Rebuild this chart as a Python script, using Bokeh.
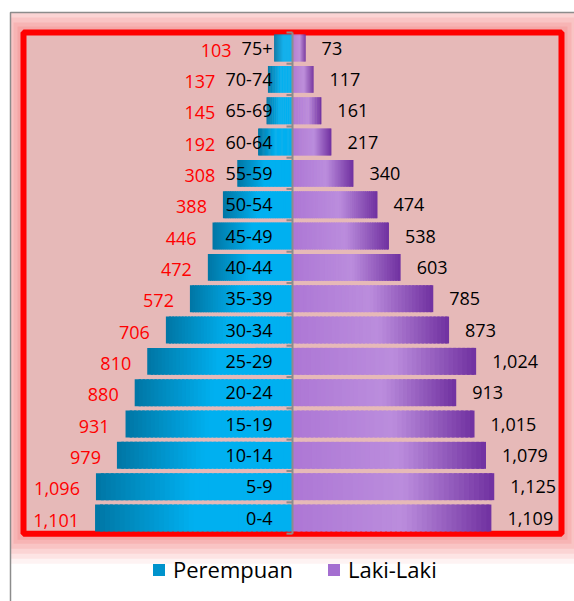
import numpy as np
from bokeh.plotting import figure
from bokeh.models import ColumnDataSource, BoxAnnotation, Legend, LegendItem, Range1d
from bokeh.core.properties import value
from bokeh.embed import file_html
from bokeh.resources import INLINE

# ---------------- data ----------------
age_groups = ["0-4", "5-9", "10-14", "15-19", "20-24", "25-29", "30-34", "35-39",
              "40-44", "45-49", "50-54", "55-59", "60-64", "65-69", "70-74", "75+"]
perempuan = [1101, 1096, 979, 931, 880, 810, 706, 572, 472, 446, 388, 308, 192, 145, 137, 103]
laki_laki = [1109, 1125, 1079, 1015, 913, 1024, 873, 785, 603, 538, 474, 340, 217, 161, 117, 73]
series_names = ["Perempuan", "Laki-Laki"]

# ---------------- layout ----------------
W, H = 574, 601
XMAX = 1500                 # extent of the red-bordered plot box
upp = 2 * XMAX / 538.0      # data units per pixel (x)
CX = 292                    # canvas x of the zero line
ROW_PX = 31.33              # pixels per row
Y0 = 517.5                  # canvas y of first row centre
n = len(age_groups)
x_lo, x_hi = -CX * upp, (W - CX) * upp
y_hi, y_lo = Y0 / ROW_PX, -(H - Y0) / ROW_PX
ypp = 1.0 / ROW_PX
FONT = value("Open Sans")

p = figure(width=W, height=H, x_range=Range1d(x_lo, x_hi), y_range=Range1d(y_lo, y_hi),
           output_backend="svg", toolbar_location=None, min_border=0)
p.xaxis.visible = False
p.yaxis.visible = False
p.xgrid.visible = False
p.ygrid.visible = False
p.outline_line_color = None
p.border_fill_color = "white"
p.background_fill_color = "white"

box_l, box_r, box_b, box_t = -XMAX, XMAX, -0.5, n - 0.5
gray_l, gray_t = x_lo + 10 * upp, y_hi - 12 * ypp

# glow around the chart box (clipped to the chart-area border)
for (d, col) in [(30, "#fef3f3"), (25, "#fde4e4"), (20, "#fbd4d4"), (15, "#f9c4c4"),
                 (10, "#f7b4b4"), (6, "#f5a6a6")]:
    p.add_layout(BoxAnnotation(left=max(box_l - d * upp, gray_l), right=box_r + d * upp,
                               top=min(box_t + d * ypp, gray_t), bottom=box_b - d * ypp,
                               fill_color=col, fill_alpha=1, line_color=None, line_alpha=0,
                               level="underlay"))
# outer chart-area border (gray)
p.add_layout(BoxAnnotation(left=gray_l, right=x_hi + 50, top=gray_t,
                           bottom=y_lo - 1, fill_color=None, fill_alpha=0,
                           line_color="#8c8c8c", line_alpha=1, line_width=1.5,
                           level="underlay"))
# plot box with red border
p.add_layout(BoxAnnotation(left=box_l, right=box_r, top=box_t, bottom=box_b,
                           fill_color="#e6b9b8", fill_alpha=1, line_color="#ff0000",
                           line_alpha=1, line_width=6, level="underlay"))


def hex2rgb(h):
    h = h.lstrip("#")
    return np.array([int(h[i:i + 2], 16) for i in (0, 2, 4)], dtype=float)


def grad_color(stops, t):
    for (t0, c0), (t1, c1) in zip(stops[:-1], stops[1:]):
        if t <= t1:
            f = 0 if t1 == t0 else (t - t0) / (t1 - t0)
            c = hex2rgb(c0) * (1 - f) + hex2rgb(c1) * f
            return "#%02x%02x%02x" % tuple(int(round(v)) for v in c)
    return stops[-1][1]


fem_stops = [(0.0, "#0076a4"), (0.5, "#00b0f0"), (1.0, "#00b0f0")]
mal_stops = [(0.0, "#ad77d5"), (0.55, "#bb8ddd"), (1.0, "#7030a0")]
NSEG = 40
BAR_H = 0.86


def gradient_source(vals, stops, sign):
    L, R, Y, C = [], [], [], []
    for i, v in enumerate(vals):
        for j in range(NSEG):
            t0 = j / NSEG
            t1 = min(1.0, (j + 1.6) / NSEG)
            tc = (j + 0.5) / NSEG
            if sign < 0:
                a, b = -v + t0 * v, -v + t1 * v
            else:
                a, b = t0 * v, t1 * v
            L.append(min(a, b)); R.append(max(a, b)); Y.append(i)
            C.append(grad_color(stops, tc))
    return ColumnDataSource(dict(left=L, right=R, y=Y, color=C))


p.hbar(y="y", left="left", right="right", height=BAR_H, fill_color="color",
       line_color=None, source=gradient_source(perempuan, fem_stops, -1))
p.hbar(y="y", left="left", right="right", height=BAR_H, fill_color="color",
       line_color=None, source=gradient_source(laki_laki, mal_stops, 1))

# center axis with ticks at category boundaries
bounds = [k - 0.5 for k in range(n + 1)]
p.segment(x0=[0], x1=[0], y0=[box_b], y1=[box_t], line_color="#8c8c8c", line_width=2)
p.segment(x0=[-6 * upp] * len(bounds), x1=[0] * len(bounds), y0=bounds, y1=bounds,
          line_color="#8c8c8c", line_width=2)

idx = list(range(n))
# category labels
p.text(x=[-20 * upp] * n, y=idx, text=age_groups, text_align="right",
       text_baseline="middle", text_font=FONT, text_font_size="18px", text_color="black")


def char_w(s):
    return sum(5.9 if ch == "-" else 10.3 for ch in s)


fx = [-max(v + 16 * upp, (20 + char_w(a) + 10) * upp) for v, a in zip(perempuan, age_groups)]
p.text(x=fx, y=idx, text=[f"{v:,}" for v in perempuan], text_align="right",
       text_baseline="middle", y_offset=2, text_font=FONT, text_font_size="18px",
       text_color="#ff0000")
mx = [v + 16 * upp for v in laki_laki]
p.text(x=mx, y=idx, text=[f"{v:,}" for v in laki_laki], text_align="left",
       text_baseline="middle", text_font=FONT, text_font_size="18px", text_color="black")

# legend
r_f = p.hbar(y=[0], left=[0], right=[0], height=0, fill_color="#0093cc", line_color=None)
r_m = p.hbar(y=[0], left=[0], right=[0], height=0, fill_color="#a46ed0", line_color=None)
legend = Legend(items=[LegendItem(label=series_names[0], renderers=[r_f]),
                       LegendItem(label=series_names[1], renderers=[r_m])],
                orientation="horizontal", location=(151, 17),
                label_text_font="Open Sans", label_text_font_size="22px",
                label_text_color="black",
                glyph_width=15, glyph_height=15, label_standoff=7, spacing=33,
                border_line_color=None, background_fill_alpha=0, padding=6, margin=0)
p.add_layout(legend)

open("out.html", "w").write(file_html(p, INLINE))
